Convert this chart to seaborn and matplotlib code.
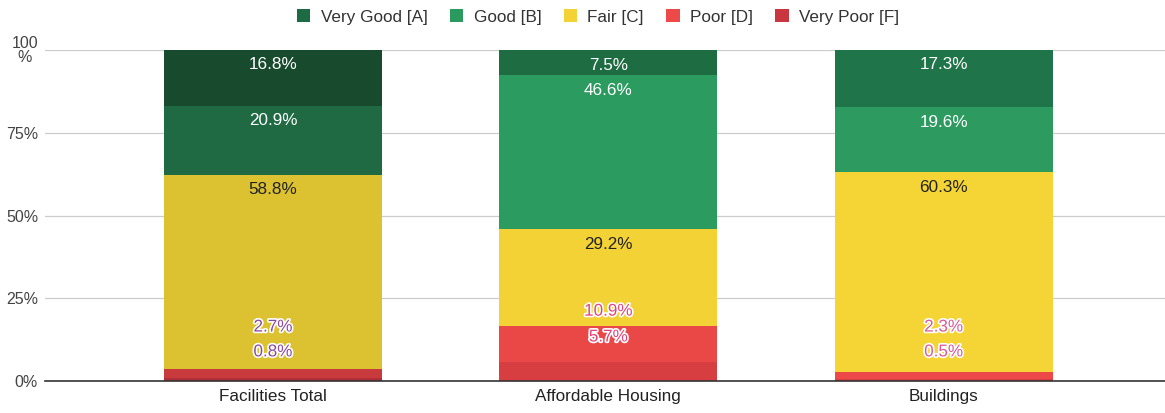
import matplotlib
matplotlib.use("Agg")
import matplotlib.pyplot as plt
from matplotlib import patheffects as pe
from matplotlib.patches import Patch
import numpy as np
import pandas as pd
import seaborn as sns

# ---------------- data ----------------
categories = ["Facilities Total", "Affordable Housing", "Buildings"]
series = ["Very Good [A]", "Good [B]", "Fair [C]", "Poor [D]", "Very Poor [F]"]
very_good = [16.8, 7.5, 17.3]
good = [20.9, 46.6, 19.6]
fair = [58.8, 29.2, 60.3]
poor = [2.7, 10.9, 2.3]
very_poor = [0.8, 5.7, 0.5]
ytick_values = [0, 25, 50, 75, 100]
ytick_labels = ["0%", "25%", "50%", "75%", "100\n%"]

# ---------------- style ----------------
legend_colors = ["#1c6b43", "#2a9a5e", "#f3d236", "#ee4949", "#c9363f"]
# per-bar rendered shades (first bar appears darker in the reference)
bar_colors = {
    "Facilities Total": ["#184a2d", "#1f6a43", "#dcc230", "#c83a3c", "#b02e38"],
    "Affordable Housing": ["#1e6c42", "#2b9b5f", "#f3d236", "#ea4747", "#d63e42"],
    "Buildings": ["#1f7549", "#2d9a60", "#f5d535", "#ee4949", "#d63e42"],
}
text_colors = ["white", "white", "#222222", None, None]
small_text_color = {"Facilities Total": "#8a4a9e", "Affordable Housing": "#e0457a", "Buildings": "#d95b98"}
# label positions for the small segments (stacked above each other like the source)
small_label_y = {
    "Facilities Total": {3: 16.3, 4: 8.8},
    "Affordable Housing": {3: 21.1, 4: 13.3},
    "Buildings": {3: 16.3, 4: 8.8},
}

sns.set_theme(style="white")
plt.rcParams["font.family"] = ["Liberation Sans", "DejaVu Sans"]

W, H = 1165, 413
fig = plt.figure(figsize=(W / 100, H / 100), dpi=100)
ax = fig.add_axes([45 / W, 32 / H, 1120 / W, 331 / H])

values = [very_good, good, fair, poor, very_poor]
# stack order bottom -> top: Very Poor, Poor, Fair, Good, Very Good
stack_bottom_up = [4, 3, 2, 1, 0]
tops = {}
running = np.zeros(len(categories))
for si in stack_bottom_up:
    running = running + np.array(values[si])
    tops[si] = running.copy()

# draw from the tallest cumulative to the shortest so they overlay properly
for si in [0, 1, 2, 3, 4]:
    df = pd.DataFrame({"category": categories, "cum": tops[si]})
    pal = [bar_colors[c][si] for c in categories]
    sns.barplot(data=df, x="category", y="cum", hue="category", palette=pal,
                legend=False, width=0.65, saturation=1, ax=ax,
                order=categories, hue_order=categories, linewidth=0)

FS = 12.3
# value labels
for ci, cat in enumerate(categories):
    for si in range(5):
        val = values[si][ci]
        label = f"{val:.1f}%"
        if si in small_label_y[cat]:
            y = small_label_y[cat][si]
            ax.text(ci, y, label, ha="center", va="center", fontsize=FS,
                    color=small_text_color[cat],
                    path_effects=[pe.withStroke(linewidth=2.4, foreground="white")],
                    zorder=5)
        else:
            y = tops[si][ci] - 4.5
            ax.text(ci, y, label, ha="center", va="center", fontsize=FS,
                    color=text_colors[si], zorder=5)

ax.set_xlim(-0.68, 2.66)
ax.set_ylim(0, 100)
ax.set_yticks(ytick_values)
ax.set_yticklabels(ytick_labels, fontsize=11.5, color="#444444", multialignment="center",
                   linespacing=0.9)
ax.tick_params(axis="y", length=0, pad=5)
ax.tick_params(axis="x", length=0, pad=6, labelsize=FS, labelcolor="#222222")
ax.set_xlabel("")
ax.set_ylabel("")
for y in [25, 50, 75, 100]:
    ax.axhline(y, color="#cccccc", lw=0.9, zorder=0)
ax.set_axisbelow(True)
for s in ["top", "right", "left"]:
    ax.spines[s].set_visible(False)
ax.spines["bottom"].set_color("#333333")
ax.spines["bottom"].set_linewidth(1.2)
ax.spines["bottom"].set_zorder(6)

handles = [Patch(facecolor=c, edgecolor="none") for c in legend_colors]
fig.legend(handles, series, loc="center", bbox_to_anchor=(598 / W, 1 - 17 / H),
           ncol=5, frameon=False, fontsize=FS, handlelength=0.8, handleheight=0.8,
           handletextpad=0.6, columnspacing=1.3, labelcolor="#333333")

fig.savefig("out.png", dpi=100)
